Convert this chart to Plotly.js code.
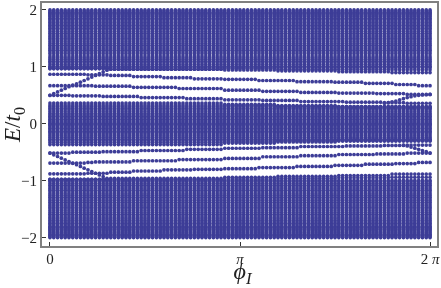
<!DOCTYPE html>
<html><head><meta charset="utf-8">
<script src="https://cdn.plot.ly/plotly-3.0.0.min.js"></script>
<style>html,body{margin:0;padding:0;background:#fff}#c{width:441px;height:288px;filter:blur(0.45px)}</style>
</head><body><div id="c"></div>
<script>
const phi=[0,.02,.04,.06,.08,.1,.12,.14,.16,.18,.2,.22,.24,.26,.28,.3,.32,.34,.36,.38,.4,.42,.44,.46,.48,.5,.52,.54,.56,.58,.6,.62,.64,.66,.68,.7,.72,.74,.76,.78,.8,.82,.84,.86,.88,.9,.92,.94,.96,.98,1,1.02,1.04,1.06,1.08,1.1,1.12,1.14,1.16,1.18,1.2,1.22,1.24,1.26,1.28,1.3,1.32,1.34,1.36,1.38,1.4,1.42,1.44,1.46,1.48,1.5,1.52,1.54,1.56,1.58,1.6,1.62,1.64,1.66,1.68,1.7,1.72,1.74,1.76,1.78,1.8,1.82,1.84,1.86,1.88,1.9,1.92,1.94,1.96,1.98,2];
const upperLevels=[2,1.98,1.96,1.94,1.92,1.9,1.88,1.855,1.83,1.805,1.78,1.755,1.73,1.705,1.68,1.65,1.62,1.59,1.56,1.53,1.5,1.47,1.44,1.41,1.38,1.35,1.32,1.29,1.26,1.23,1.19,1.16,1.13,1.1,1.07,1.04,1.01,.99];
const middleLevels=[.3,.27,.24,.21,.18,.155,.13,.105,.08,.055,.03,.01,-.01,-.03,-.055,-.08,-.105,-.13,-.155,-.18,-.21,-.24,-.27,-.3];
const lowerLevels=[-2,-1.98,-1.96,-1.94,-1.92,-1.9,-1.88,-1.86,-1.84,-1.82,-1.8,-1.775,-1.75,-1.725,-1.7,-1.675,-1.65,-1.62,-1.59,-1.56,-1.53,-1.5,-1.47,-1.44,-1.41,-1.38,-1.35,-1.32,-1.29,-1.26,-1.23,-1.2,-1.17,-1.14,-1.11,-1.08,-1.05,-1.02,-.995];
const upperEdge=[.97,.97,.97,.97,.97,.97,.97,.97,.97,.97,.97,.97,.97,.97,.97,.97,.96,.96,.96,.96,.96,.96,.96,.96,.96,.96,.96,.96,.96,.96,.96,.96,.96,.96,.96,.96,.96,.96,.96,.96,.96,.96,.96,.96,.96,.96,.945,.945,.945,.945,.945,.945,.945,.945,.945,.945,.945,.945,.945,.945,.93,.93,.93,.93,.93,.93,.93,.93,.93,.93,.93,.93,.93,.93,.93,.93,.915,.915,.915,.915,.915,.915,.915,.915,.915,.915,.915,.915,.915,.915,.9,.9,.9,.9,.9,.9,.9,.9,.9,.9,.9];
const upperEdgeB=[.97,.97,.97,.97,.97,.97,.97,.97,.97,.97,.97,.97,.97,.97,.97,.97,.96,.96,.96,.96,.96,.96,.96,.96,.96,.96,.96,.96,.96,.96,.96,.96,.96,.96,.96,.96,.96,.96,.96,.96,.96,.96,.96,.96,.96,.96,.97,.97,.97,.97,.97,.97,.97,.97,.97,.97,.97,.97,.97,.97,.96,.96,.96,.96,.96,.96,.96,.96,.96,.96,.96,.96,.96,.96,.96,.96,.955,.955,.955,.955,.955,.955,.955,.955,.955,.955,.955,.955,.955,.955,.95,.95,.95,.95,.95,.95,.95,.95,.95,.95,.95];
const midTop=[.365,.365,.365,.365,.365,.365,.365,.365,.365,.365,.365,.365,.365,.365,.365,.365,.365,.365,.365,.365,.365,.365,.365,.365,.365,.365,.365,.365,.365,.365,.365,.365,.365,.365,.365,.365,.365,.365,.365,.365,.365,.365,.365,.365,.365,.365,.34,.34,.34,.34,.34,.34,.34,.34,.34,.34,.34,.34,.34,.34,.32,.32,.32,.32,.32,.32,.32,.32,.32,.32,.32,.32,.32,.32,.32,.32,.3,.3,.3,.3,.3,.3,.3,.3,.3,.3,.3,.3,.3,.3,.3,.3,.3,.3,.3,.3,.3,.3,.3,.3,.3];
const midTopB=[.33,.33,.33,.33,.33,.33,.33,.33,.33,.33,.33,.33,.33,.33,.33,.33,.33,.33,.33,.33,.33,.33,.33,.33,.33,.33,.33,.33,.33,.33,.33,.33,.33,.33,.33,.33,.33,.33,.33,.33,.33,.33,.33,.33,.33,.33,.32,.32,.32,.32,.32,.32,.32,.32,.32,.32,.32,.32,.32,.32,.3,.3,.3,.3,.3,.3,.3,.3,.3,.3,.3,.3,.3,.3,.3,.3,.28,.28,.28,.28,.28,.28,.28,.28,.28,.28,.28,.28,.28,.28,.28,.28,.28,.28,.28,.28,.28,.28,.28,.28,.28];
const midBot=[-.365,-.365,-.365,-.365,-.365,-.365,-.365,-.365,-.365,-.365,-.365,-.365,-.365,-.365,-.365,-.365,-.365,-.365,-.365,-.365,-.365,-.365,-.365,-.365,-.365,-.365,-.365,-.365,-.365,-.365,-.365,-.365,-.365,-.365,-.365,-.365,-.365,-.365,-.365,-.365,-.365,-.365,-.365,-.365,-.365,-.365,-.34,-.34,-.34,-.34,-.34,-.34,-.34,-.34,-.34,-.34,-.34,-.34,-.34,-.34,-.32,-.32,-.32,-.32,-.32,-.32,-.32,-.32,-.32,-.32,-.32,-.32,-.32,-.32,-.32,-.32,-.3,-.3,-.3,-.3,-.3,-.3,-.3,-.3,-.3,-.3,-.3,-.3,-.3,-.3,-.3,-.3,-.3,-.3,-.3,-.3,-.3,-.3,-.3,-.3,-.3];
const midBotB=[-.33,-.33,-.33,-.33,-.33,-.33,-.33,-.33,-.33,-.33,-.33,-.33,-.33,-.33,-.33,-.33,-.33,-.33,-.33,-.33,-.33,-.33,-.33,-.33,-.33,-.33,-.33,-.33,-.33,-.33,-.33,-.33,-.33,-.33,-.33,-.33,-.33,-.33,-.33,-.33,-.33,-.33,-.33,-.33,-.33,-.33,-.32,-.32,-.32,-.32,-.32,-.32,-.32,-.32,-.32,-.32,-.32,-.32,-.32,-.32,-.3,-.3,-.3,-.3,-.3,-.3,-.3,-.3,-.3,-.3,-.3,-.3,-.3,-.3,-.3,-.3,-.28,-.28,-.28,-.28,-.28,-.28,-.28,-.28,-.28,-.28,-.28,-.28,-.28,-.28,-.28,-.28,-.28,-.28,-.28,-.28,-.28,-.28,-.28,-.28,-.28];
const lowerEdge=[-.975,-.975,-.975,-.975,-.975,-.975,-.975,-.975,-.975,-.975,-.975,-.975,-.975,-.975,-.975,-.975,-.96,-.96,-.96,-.96,-.96,-.96,-.96,-.96,-.96,-.96,-.96,-.96,-.96,-.96,-.96,-.96,-.96,-.96,-.96,-.96,-.96,-.96,-.96,-.96,-.96,-.96,-.96,-.96,-.96,-.96,-.94,-.94,-.94,-.94,-.94,-.94,-.94,-.94,-.94,-.94,-.94,-.94,-.94,-.94,-.925,-.925,-.925,-.925,-.925,-.925,-.925,-.925,-.925,-.925,-.925,-.925,-.925,-.925,-.925,-.925,-.91,-.91,-.91,-.91,-.91,-.91,-.91,-.91,-.91,-.91,-.91,-.91,-.91,-.91,-.885,-.885,-.885,-.885,-.885,-.885,-.885,-.885,-.885,-.885,-.885];
const lowerEdgeB=[-.975,-.975,-.975,-.975,-.975,-.975,-.975,-.975,-.975,-.975,-.975,-.975,-.975,-.975,-.975,-.975,-.98,-.98,-.98,-.98,-.98,-.98,-.98,-.98,-.98,-.98,-.98,-.98,-.98,-.98,-.98,-.98,-.98,-.98,-.98,-.98,-.98,-.98,-.98,-.98,-.98,-.98,-.98,-.98,-.98,-.98,-.97,-.97,-.97,-.97,-.97,-.97,-.97,-.97,-.97,-.97,-.97,-.97,-.97,-.97,-.96,-.96,-.96,-.96,-.96,-.96,-.96,-.96,-.96,-.96,-.96,-.96,-.96,-.96,-.96,-.96,-.95,-.95,-.95,-.95,-.95,-.95,-.95,-.95,-.95,-.95,-.95,-.95,-.95,-.95,-.94,-.94,-.94,-.94,-.94,-.94,-.94,-.94,-.94,-.94,-.94];
const upA=[.87,.87,.87,.87,.87,.87,.87,.87,.87,.87,.86,.86,.86,.86,.86,.86,.85,.85,.85,.85,.85,.85,.83,.83,.83,.83,.83,.83,.83,.83,.81,.81,.81,.81,.81,.81,.81,.81,.79,.79,.79,.79,.79,.79,.79,.79,.78,.78,.78,.78,.78,.78,.78,.78,.78,.76,.76,.76,.76,.76,.76,.76,.76,.76,.76,.74,.74,.74,.74,.74,.74,.74,.74,.74,.74,.73,.73,.73,.73,.73,.73,.73,.73,.71,.71,.71,.71,.71,.71,.71,.71,.69,.69,.69,.69,.69,.69,.67,.67,.67,.67];
const upB=[.67,.67,.67,.67,.67,.67,.67,.67,.67,.67,.67,.67,.66,.66,.66,.66,.66,.66,.66,.66,.66,.66,.64,.64,.64,.64,.64,.64,.64,.64,.64,.64,.64,.64,.62,.62,.62,.62,.62,.62,.62,.62,.62,.62,.62,.62,.59,.59,.59,.59,.59,.59,.59,.59,.59,.59,.57,.57,.57,.57,.57,.57,.57,.57,.57,.57,.55,.55,.55,.55,.55,.55,.55,.55,.55,.55,.54,.54,.54,.54,.54,.54,.54,.54,.54,.54,.53,.53,.53,.53,.53,.53,.53,.53,.515,.515,.515,.515,.515,.515,.515];
const upC=[.5,.5,.5,.5,.5,.5,.49,.49,.49,.49,.49,.49,.49,.49,.48,.48,.48,.48,.48,.48,.48,.48,.48,.48,.46,.46,.46,.46,.46,.46,.46,.46,.46,.46,.46,.46,.44,.44,.44,.44,.44,.44,.44,.44,.44,.44,.42,.42,.42,.42,.42,.42,.42,.42,.42,.42,.41,.41,.41,.41,.41,.41,.41,.41,.41,.41,.39,.39,.39,.39,.39,.39,.39,.39,.39,.39,.39,.39,.38,.38,.38,.38,.38,.38,.38,.38,.38,.38,.37,.37,.37,.37,.37,.37,.36,.36,.36,.36,.36,.36,.36];
const loA=[-.88,-.88,-.88,-.88,-.88,-.88,-.88,-.88,-.88,-.88,-.87,-.87,-.87,-.87,-.87,-.87,-.85,-.85,-.85,-.85,-.85,-.85,-.83,-.83,-.83,-.83,-.83,-.83,-.83,-.83,-.81,-.81,-.81,-.81,-.81,-.81,-.81,-.81,-.8,-.8,-.8,-.8,-.8,-.8,-.8,-.8,-.79,-.79,-.79,-.79,-.79,-.79,-.79,-.79,-.79,-.77,-.77,-.77,-.77,-.77,-.77,-.77,-.77,-.77,-.77,-.75,-.75,-.75,-.75,-.75,-.75,-.75,-.75,-.75,-.75,-.73,-.73,-.73,-.73,-.73,-.73,-.73,-.73,-.71,-.71,-.71,-.71,-.71,-.71,-.71,-.71,-.7,-.7,-.7,-.7,-.7,-.7,-.68,-.68,-.68,-.68];
const loB=[-.69,-.69,-.69,-.69,-.69,-.69,-.69,-.69,-.69,-.69,-.68,-.68,-.67,-.67,-.67,-.67,-.67,-.67,-.67,-.67,-.67,-.67,-.65,-.65,-.65,-.65,-.65,-.65,-.65,-.65,-.65,-.65,-.65,-.65,-.63,-.63,-.63,-.63,-.63,-.63,-.63,-.63,-.63,-.63,-.63,-.63,-.61,-.61,-.61,-.61,-.61,-.61,-.61,-.61,-.61,-.61,-.58,-.58,-.58,-.58,-.58,-.58,-.58,-.58,-.58,-.58,-.56,-.56,-.56,-.56,-.56,-.56,-.56,-.56,-.56,-.56,-.54,-.54,-.54,-.54,-.54,-.54,-.54,-.54,-.54,-.54,-.53,-.53,-.53,-.53,-.53,-.53,-.53,-.53,-.515,-.515,-.515,-.515,-.515,-.515,-.515];
const loC=[-.515,-.515,-.515,-.515,-.515,-.515,-.5,-.5,-.5,-.5,-.5,-.5,-.5,-.5,-.49,-.49,-.49,-.49,-.49,-.49,-.49,-.49,-.49,-.49,-.47,-.47,-.47,-.47,-.47,-.47,-.47,-.47,-.47,-.47,-.47,-.47,-.45,-.45,-.45,-.45,-.45,-.45,-.45,-.45,-.45,-.45,-.43,-.43,-.43,-.43,-.43,-.43,-.43,-.43,-.43,-.43,-.42,-.42,-.42,-.42,-.42,-.42,-.42,-.42,-.42,-.42,-.4,-.4,-.4,-.4,-.4,-.4,-.4,-.4,-.4,-.4,-.4,-.4,-.39,-.39,-.39,-.39,-.39,-.39,-.39,-.39,-.39,-.39,-.38,-.38,-.38,-.38,-.38,-.38,-.375,-.375,-.375,-.375,-.375,-.375,-.375];
const riseLeftX=[0,.02,.04,.06,.08,.1,.12,.14,.16,.18,.2,.22,.24,.26,.28,.3];
const riseLeftY=[.5,.53,.56,.59,.62,.65,.68,.7,.73,.76,.79,.82,.85,.88,.91,.94];
const fallLeftY=[-.515,-.545,-.575,-.605,-.635,-.665,-.695,-.72,-.75,-.78,-.81,-.84,-.87,-.9,-.93,-.96];
const riseRightX=[1.76,1.78,1.8,1.82,1.84,1.86,1.88,1.9,1.92,1.94,1.96,1.98,2];
const riseRightY=[.36,.37,.385,.4,.42,.44,.46,.475,.49,.5,.505,.51,.515];
const fallRightX=[1.86,1.88,1.9,1.92,1.94,1.96,1.98,2];
const fallRightY=[-.375,-.39,-.41,-.43,-.45,-.47,-.49,-.515];
const xTicks=[0,1,2];
const xLabels=['0','<i>π</i>','2 <i>π</i>'];
const yTicks=[-2,-1,0,1,2];
const yLabels=['−2','−1','0','1','2'];

const ink='#3d3d97';
const dots=(x,y,size)=>({type:'scatter',mode:'markers',x:x,y:y,hoverinfo:'skip',showlegend:false,cliponaxis:false,
  marker:{color:ink,size:size,line:{width:0}}});
const gridX=[],gridY=[];
phi.forEach(p=>{[upperLevels,middleLevels,lowerLevels].forEach(ls=>ls.forEach(e=>{gridX.push(p);gridY.push(e);}));});
const traces=[dots(gridX,gridY,3.7)];
[upperEdge,upperEdgeB,midTop,midTopB,midBot,midBotB,lowerEdge,lowerEdgeB].forEach(s=>traces.push(dots(phi,s,3.7)));
[upA,upB,upC,loA,loB,loC].forEach(s=>traces.push(dots(phi,s,3.7)));
traces.push(dots(riseLeftX,riseLeftY,3.7),dots(riseLeftX,fallLeftY,3.7),dots(riseRightX,riseRightY,3.7),dots(fallRightX,fallRightY,3.7));

const frame={showline:true,mirror:true,linecolor:'#808080',linewidth:2,showgrid:false,zeroline:false,
  ticks:'inside',ticklen:4,tickwidth:1,tickcolor:'#333'};
Plotly.newPlot('c',traces,{
  width:441,height:288,paper_bgcolor:'#fff',plot_bgcolor:'#fff',showlegend:false,
  margin:{l:42,r:4,t:3,b:42,pad:0},
  font:{family:'"Liberation Serif",serif',size:15,color:'#222'},
  xaxis:Object.assign({},frame,{range:[-.0419,2.0366],tickmode:'array',tickvals:xTicks,ticktext:xLabels,ticklabelstandoff:-2,
    title:{text:'&nbsp;<i>ϕ</i><sub><i>I</i></sub>',font:{size:24,color:'#222'},standoff:13}}),
  yaxis:Object.assign({},frame,{range:[-2.148,2.122],tickmode:'array',tickvals:yTicks,ticktext:yLabels,
    title:{text:'<i>E</i>/<i>t</i><sub>0</sub>',font:{size:23,color:'#222'},standoff:2}})
},{displayModeBar:false,staticPlot:true});
</script></body></html>
